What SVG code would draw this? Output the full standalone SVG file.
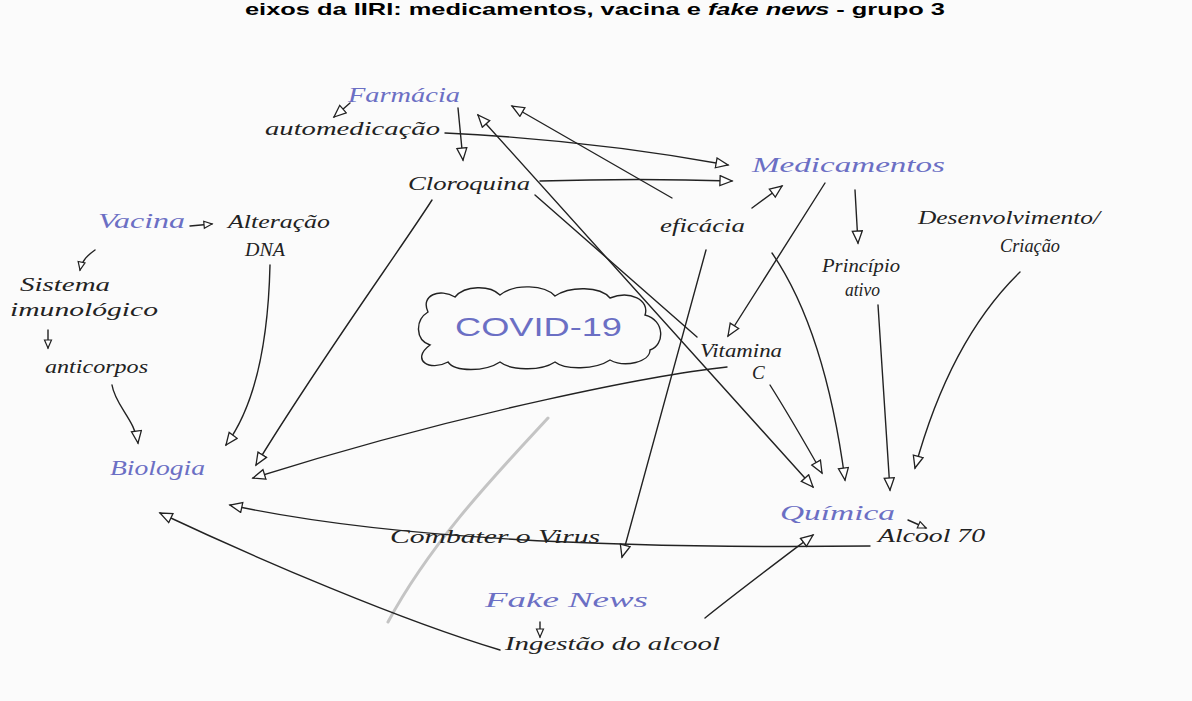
<svg xmlns="http://www.w3.org/2000/svg" width="1192" height="701" viewBox="0 0 1192 701">
<defs>
<style>
.bg{fill:#fbfbfb}
.t{font-family:"Liberation Serif",serif;font-style:italic;font-size:19px;fill:#222}
.b{font-family:"Liberation Serif",serif;font-style:italic;font-size:22px;fill:#6b6fc4}
.title{font-family:"Liberation Sans",Arial,sans-serif;font-weight:bold;font-size:17px;fill:#000}
.c{fill:none;stroke:#222;stroke-width:1.4;stroke-linecap:round}
.h{marker-end:url(#ah)}
.cloud{fill:none;stroke:#222;stroke-width:1.4}
</style>
<marker id="ah" markerUnits="userSpaceOnUse" markerWidth="16" markerHeight="14" refX="13" refY="6" orient="auto-start-reverse">
<path d="M1,1 L13,6 L1,11 Z" fill="#fff" stroke="#222" stroke-width="1.3"/>
</marker>
<marker id="ahs" markerUnits="userSpaceOnUse" markerWidth="12" markerHeight="10" refX="9" refY="4.5" orient="auto">
<path d="M1,1 L9,4.5 L1,8 Z" fill="#fff" stroke="#222" stroke-width="1.2"/>
</marker>
</defs>
<rect class="bg" x="0" y="0" width="1192" height="701"/>
<text class="title" x="245" y="15" textLength="700" lengthAdjust="spacingAndGlyphs">eixos da IIRI: medicamentos, vacina e <tspan font-style="italic">fake news</tspan> - grupo 3</text>

<path d="M548,418 C500,470 432,540 388,622" fill="none" stroke="#c4c4c4" stroke-width="3" stroke-linecap="round"/>

<g id="connectors">
<path class="c h" d="M350,103 L334,117"/>
<path class="c h" d="M458,108 L463,160"/>
<path class="c h" d="M445,133 Q590,140 728,165"/>
<path class="c h" d="M540,181 Q640,178 732,181"/>
<path class="c h" d="M672,198 L512,106"/>
<path class="c h" d="M478,115 L813,487" marker-start="url(#ah)"/>
<path class="c" d="M535,195 L697,337"/>
<path class="c h" d="M770,385 Q792,420 822,473"/>
<path class="c h" d="M825,183 L728,336"/>
<path class="c h" d="M772,253 Q825,330 845,480"/>
<path class="c h" d="M878,305 L890,490"/>
<path class="c h" d="M1020,272 Q950,340 915,468"/>
<path class="c h" d="M752,208 L782,186"/>
<path class="c h" d="M855,190 L858,243"/>
<path class="c h" d="M706,250 L622,557"/>
<path class="c h" d="M727,367 C660,374 470,410 253,478"/>
<path class="c h" d="M432,200 C400,250 320,360 256,465"/>
<path class="c h" d="M270,265 C268,350 252,410 226,445"/>
<path class="c h" d="M112,385 C115,405 135,420 138,443"/>
<path class="c h" d="M870,546 C700,548 420,546 230,505"/>
<path class="c h" d="M500,650 C400,620 260,560 160,513"/>
<path class="c h" d="M705,618 C740,590 780,560 813,535"/>
<path class="c" d="M908,520 L926,528" marker-end="url(#ahs)"/>
<path class="c" d="M190,226 L212,224" marker-end="url(#ahs)"/>
<path class="c" d="M95,250 C88,255 82,260 80,270" marker-end="url(#ahs)"/>
<path class="c" d="M48,330 L48,348" marker-end="url(#ahs)"/>
<path class="c" d="M540,622 L540,637" marker-end="url(#ahs)"/>
</g>

<g id="farmacia"><text class="b" x="348" y="102" textLength="112" lengthAdjust="spacingAndGlyphs">Farmácia</text></g>
<g id="automedicacao"><text class="t" x="265" y="135" textLength="175" lengthAdjust="spacingAndGlyphs">automedicação</text></g>
<g id="cloroquina"><text class="t" x="408" y="190" textLength="122" lengthAdjust="spacingAndGlyphs">Cloroquina</text></g>
<g id="medicamentos"><text class="b" x="752" y="172" textLength="193" lengthAdjust="spacingAndGlyphs">Medicamentos</text></g>
<g id="eficacia"><text class="t" x="660" y="232" textLength="85" lengthAdjust="spacingAndGlyphs">eficácia</text></g>
<g id="desenvolvimento"><text class="t" x="918" y="224" textLength="182" lengthAdjust="spacingAndGlyphs">Desenvolvimento/</text><text class="t" x="1000" y="252" textLength="60" lengthAdjust="spacingAndGlyphs">Criação</text></g>
<g id="principio"><text class="t" x="822" y="272" textLength="78" lengthAdjust="spacingAndGlyphs">Princípio</text><text class="t" x="845" y="296" textLength="35" lengthAdjust="spacingAndGlyphs">ativo</text></g>
<g id="vacina"><text class="b" x="98" y="228" textLength="87" lengthAdjust="spacingAndGlyphs">Vacina</text></g>
<g id="alteracao"><text class="t" x="228" y="228" textLength="102" lengthAdjust="spacingAndGlyphs">Alteração</text><text class="t" x="245" y="256" textLength="40" lengthAdjust="spacingAndGlyphs" font-style="normal" font-family="Liberation Sans, sans-serif" font-size="16">DNA</text></g>
<g id="sistema"><text class="t" x="20" y="291" textLength="90" lengthAdjust="spacingAndGlyphs">Sistema</text><text class="t" x="10" y="316" textLength="148" lengthAdjust="spacingAndGlyphs">imunológico</text></g>
<g id="anticorpos"><text class="t" x="45" y="373" textLength="103" lengthAdjust="spacingAndGlyphs">anticorpos</text></g>
<g id="covid">
<path class="cloud" d="M430,345 C415,340 415,320 428,312 C420,295 440,288 455,297 C465,285 490,285 500,295 C515,283 545,285 555,296 C570,286 600,286 610,298 C630,290 650,300 645,315 C665,320 665,345 650,350 C650,362 625,368 610,360 C595,370 565,370 555,362 C540,372 510,370 500,362 C485,372 455,372 448,362 C430,372 410,360 430,345 Z"/>
<text x="455" y="336" textLength="167" lengthAdjust="spacingAndGlyphs" font-family="Liberation Sans, sans-serif" font-size="26" fill="#6b6fc4">COVID-19</text>
</g>
<g id="vitamina"><text class="t" x="700" y="357" textLength="82" lengthAdjust="spacingAndGlyphs" font-size="17">Vitamina</text><text class="t" x="752" y="379" font-size="17">C</text></g>
<g id="biologia"><text class="b" x="110" y="475" textLength="95" lengthAdjust="spacingAndGlyphs">Biologia</text></g>
<g id="quimica"><text class="b" x="780" y="520" textLength="115" lengthAdjust="spacingAndGlyphs">Química</text></g>
<g id="alcool70"><text class="t" x="878" y="542" textLength="107" lengthAdjust="spacingAndGlyphs">Alcool 70</text></g>
<g id="combater"><text class="t" x="390" y="543" textLength="210" lengthAdjust="spacingAndGlyphs">Combater o Virus</text></g>
<g id="fakenews"><text class="b" x="485" y="607" textLength="163" lengthAdjust="spacingAndGlyphs">Fake News</text></g>
<g id="ingestao"><text class="t" x="505" y="650" textLength="215" lengthAdjust="spacingAndGlyphs">Ingestão do alcool</text></g>
</svg>
